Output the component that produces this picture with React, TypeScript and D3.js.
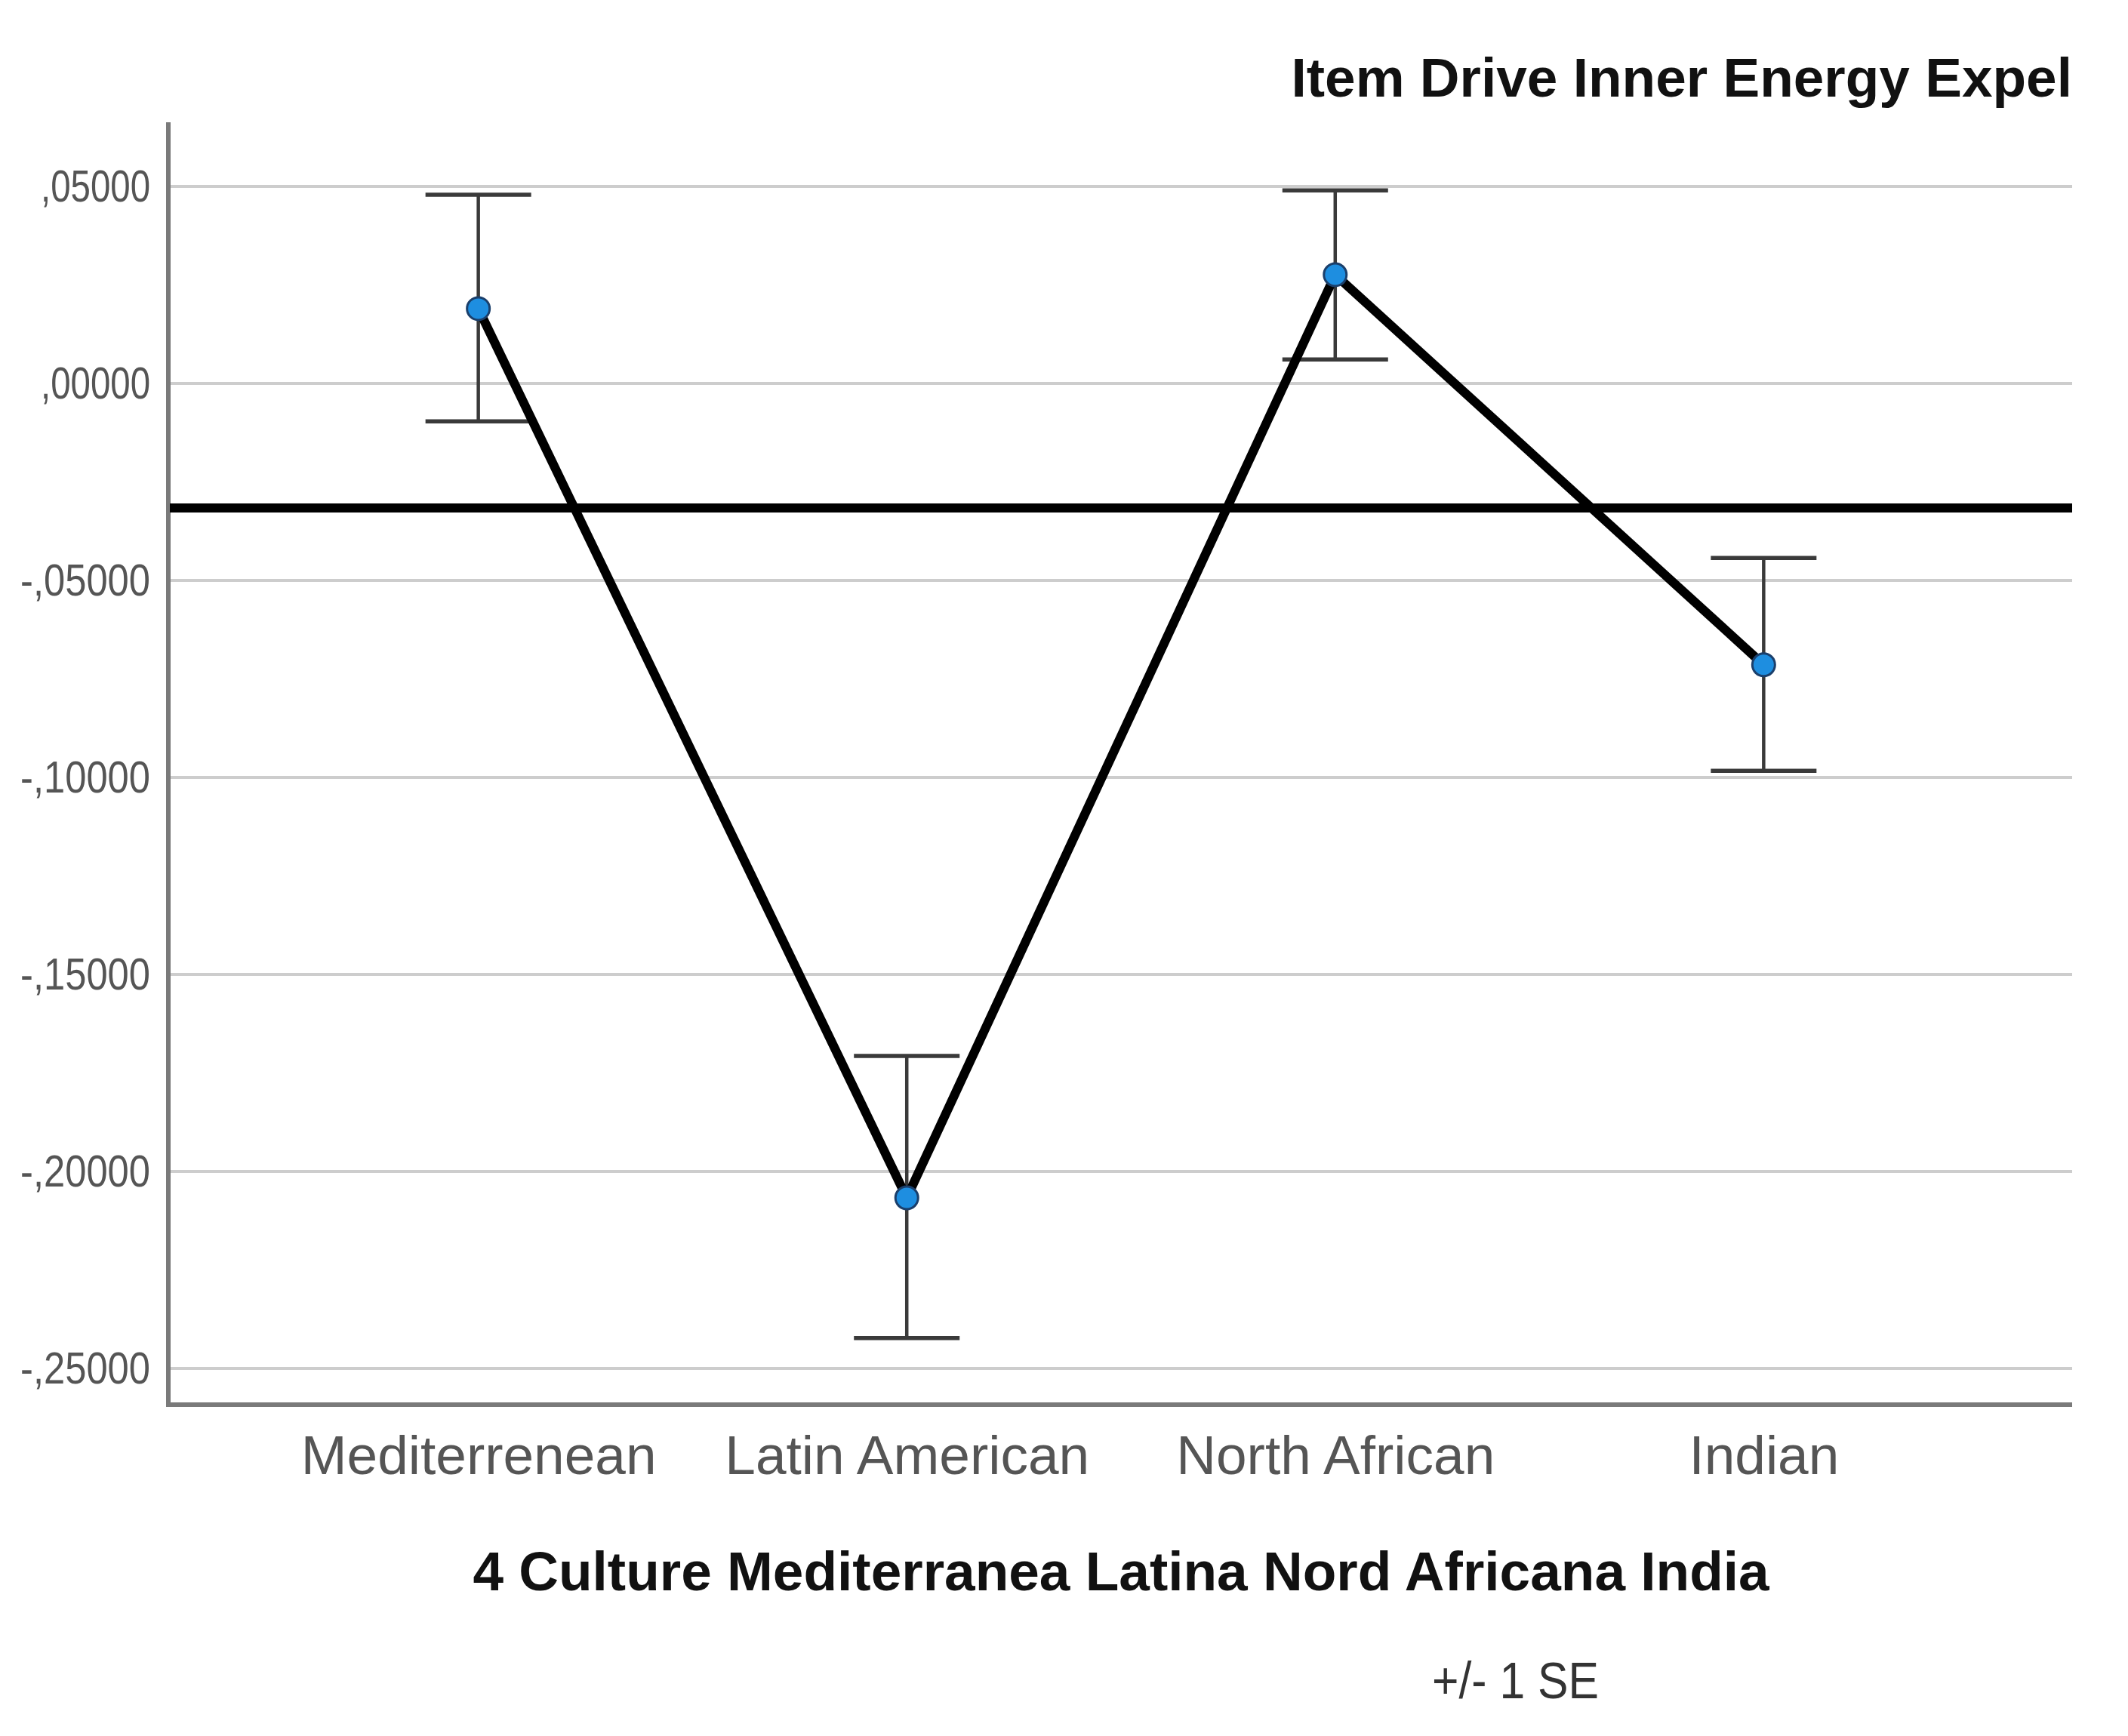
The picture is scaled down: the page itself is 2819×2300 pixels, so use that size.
import React, { useRef, useEffect } from "react";
import * as d3 from "d3";

// Group means with +/- 1 SE
const categories = ["Mediterrenean", "Latin American", "North African", "Indian"];
const means = [0.0190, -0.2067, 0.0276, -0.0714];
const upper = [0.0479, -0.1707, 0.0490, -0.0443];
const lower = [-0.0096, -0.2423, 0.0061, -0.0983];
const referenceValue = -0.0316;
const yTicks = [0.05, 0, -0.05, -0.1, -0.15, -0.2, -0.25];

const title = "Item Drive Inner Energy Expel";
const xTitle = "4 Culture Mediterranea Latina Nord Africana India";
const legendText = "+/- 1 SE";

const W = 2819;
const H = 2300;
const FONT = "'Liberation Sans', Arial, 'DejaVu Sans', sans-serif";

// SPSS style: ",05000" / "-,10000"
const spssFormat = (v: number) => {
  const s = Math.abs(v).toFixed(5).replace(/^0/, "").replace(".", ",");
  return v < 0 ? "-" + s : s;
};

const App = () => {
  const svgRef = useRef<SVGSVGElement>(null);

  useEffect(() => {
    document.body.style.margin = "0";
    const svg = d3.select(svgRef.current);
    svg.selectAll("*").remove();

    const left = 225;
    const right = 2745;
    const top = 162;
    const bottom = 1861;

    const x = d3.scalePoint<string>().domain(categories).range([left, right]).padding(0.72);
    const y = d3.scaleLinear().domain([-0.2592, 0.0663]).range([bottom, top]);

    svg.append("rect").attr("width", W).attr("height", H).attr("fill", "#fff");

    // gridlines
    svg
      .append("g")
      .selectAll("line")
      .data(yTicks)
      .join("line")
      .attr("x1", left)
      .attr("x2", right)
      .attr("y1", (d) => y(d))
      .attr("y2", (d) => y(d))
      .attr("stroke", "#cdcdcd")
      .attr("stroke-width", 4);

    // y axis
    const yAxis = svg
      .append("g")
      .attr("transform", `translate(${left},0)`)
      .call(d3.axisLeft(y).tickValues(yTicks).tickFormat((d) => spssFormat(+d)).tickSize(0).tickPadding(26));
    yAxis.select(".domain").remove();
    yAxis
      .selectAll("text")
      .attr("font-family", FONT)
      .attr("font-size", 60)
      .attr("fill", "#555")
      .attr("textLength", (d: any) => (d < 0 ? 172 : 145))
      .attr("lengthAdjust", "spacingAndGlyphs");

    // axis lines
    svg
      .append("path")
      .attr("d", `M${left - 2},${top}V${bottom}H${right}`)
      .attr("fill", "none")
      .attr("stroke", "#7a7a7a")
      .attr("stroke-width", 6);

    // x axis labels
    const xAxis = svg
      .append("g")
      .attr("transform", `translate(0,${bottom})`)
      .call(d3.axisBottom(x).tickSize(0).tickPadding(40));
    xAxis.select(".domain").remove();
    xAxis
      .selectAll("text")
      .attr("font-family", FONT)
      .attr("font-size", 73)
      .attr("fill", "#555");

    // reference line
    svg
      .append("line")
      .attr("x1", left)
      .attr("x2", right)
      .attr("y1", y(referenceValue))
      .attr("y2", y(referenceValue))
      .attr("stroke", "#000")
      .attr("stroke-width", 12);

    // error bars
    const bars = svg
      .append("g")
      .selectAll("g")
      .data(categories)
      .join("g")
      .attr("stroke", "#3a3a3a")
      .attr("fill", "none");
    bars
      .append("line")
      .attr("x1", (d) => x(d)!)
      .attr("x2", (d) => x(d)!)
      .attr("y1", (d, i) => y(upper[i]))
      .attr("y2", (d, i) => y(lower[i]))
      .attr("stroke-width", 4.5);
    [upper, lower].forEach((arr) => {
      bars
        .append("line")
        .attr("x1", (d) => x(d)! - 70)
        .attr("x2", (d) => x(d)! + 70)
        .attr("y1", (d, i) => y(arr[i]))
        .attr("y2", (d, i) => y(arr[i]))
        .attr("stroke-width", 5.5);
    });

    // mean line
    const line = d3
      .line<number>()
      .x((d, i) => x(categories[i])!)
      .y((d) => y(d));
    svg
      .append("path")
      .datum(means)
      .attr("d", line)
      .attr("fill", "none")
      .attr("stroke", "#000")
      .attr("stroke-width", 12)
      .attr("stroke-linejoin", "round");

    // points
    svg
      .append("g")
      .selectAll("circle")
      .data(means)
      .join("circle")
      .attr("cx", (d, i) => x(categories[i])!)
      .attr("cy", (d) => y(d))
      .attr("r", 15)
      .attr("fill", "#1e8ee0")
      .attr("stroke", "#1b3f6b")
      .attr("stroke-width", 3);

    // title
    svg
      .append("text")
      .attr("x", right)
      .attr("y", 128)
      .attr("text-anchor", "end")
      .attr("font-family", FONT)
      .attr("font-weight", "bold")
      .attr("font-size", 73)
      .attr("fill", "#111")
      .text(title);

    // x title
    svg
      .append("text")
      .attr("x", (left + right) / 2)
      .attr("y", 2107)
      .attr("text-anchor", "middle")
      .attr("font-family", FONT)
      .attr("font-weight", "bold")
      .attr("font-size", 73)
      .attr("fill", "#111")
      .text(xTitle);

    // legend note
    svg
      .append("text")
      .attr("x", 1897)
      .attr("y", 2250)
      .attr("font-family", FONT)
      .attr("font-size", 68)
      .attr("fill", "#333")
      .attr("textLength", 221)
      .attr("lengthAdjust", "spacingAndGlyphs")
      .text(legendText);
  }, []);

  return <svg ref={svgRef} width={W} height={H} style={{ display: "block" }} />;
};

export default App;
